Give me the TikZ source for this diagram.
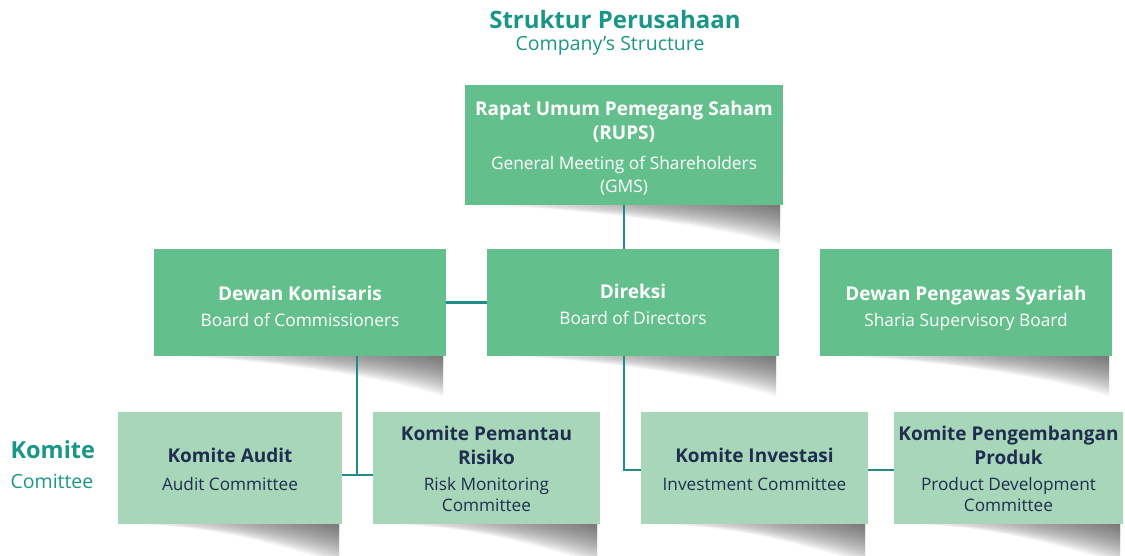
\documentclass[tikz,border=0pt]{standalone}
\usepackage{fontspec}
\setmainfont{Open Sans}
\usetikzlibrary{backgrounds,calc}
\definecolor{dkgreen}{RGB}{99,191,140}
\definecolor{ltgreen}{RGB}{167,215,184}
\definecolor{tealtxt}{RGB}{26,150,136}
\definecolor{tealline}{RGB}{30,140,138}
\definecolor{navy}{RGB}{31,45,80}
\pgfdeclarehorizontalshading{shadowh}{100bp}{color(0bp)=(white); color(25bp)=(white); color(55bp)=(black!55); color(75bp)=(black!80); color(100bp)=(black)}
\tikzset{
  topbox/.style={fill=dkgreen, inner sep=0pt},
  combox/.style={fill=ltgreen, inner sep=0pt},
  toptext/.style={text=white, align=center, inner sep=0pt, anchor=north,
    font=\fontsize{17.3}{24}\selectfont},
  comtext/.style={text=navy, align=center, inner sep=0pt, anchor=north,
    font=\fontsize{17.2}{22}\selectfont},
  link/.style={draw=tealline, line width=2.4pt},
  shadowlayer/.style={shading=shadowh, fill opacity=0.05, draw=none},
}
\newcommand{\bt}[1]{{\fontsize{19}{24}\selectfont\bfseries #1}}
\newcommand{\shadowunder}[1]{%
  \foreach \d in {2,4,...,40}{%
  \shade[shadowlayer] ($(#1.south west)+(20,0)$) -- ($(#1.south east)+(-3,0)$) -- ($(#1.south east)+(-3,\d)$)
    .. controls ($(#1.south east)+(-70,0.45*\d)$) and ($(#1.south west)+(90,2)$) .. ($(#1.south west)+(20,0)$) -- cycle;}}
\begin{document}
\begin{tikzpicture}[x=1pt,y=-1pt]
\useasboundingbox (0,0) rectangle (1125,556);
% titles
\node[text=tealtxt, font=\fontsize{24}{28}\selectfont\bfseries] (title) at (615,20) {Struktur Perusahaan};
\node[text=tealtxt, font=\fontsize{19.5}{22}\selectfont] (subtitle) at (610,46) {Company’s Structure};
\node[text=tealtxt, font=\fontsize{23.5}{26}\selectfont\bfseries, anchor=west] (kl) at (7,450) {Komite};
\node[text=tealtxt, font=\fontsize{19.5}{22}\selectfont, anchor=west] (kl2) at (7,481) {Comittee};
% boxes
\node[topbox, minimum width=318pt, minimum height=120pt] (rups) at (624,145) {};
\node[topbox, minimum width=292pt, minimum height=107pt] (kom) at (300,302.5) {};
\node[topbox, minimum width=292pt, minimum height=107pt] (dir) at (633,302.5) {};
\node[topbox, minimum width=292pt, minimum height=107pt] (dps) at (966,302.5) {};
\node[combox, minimum width=224pt, minimum height=112pt] (audit) at (230,468) {};
\node[combox, minimum width=227pt, minimum height=112pt] (risk) at (486.5,468) {};
\node[combox, minimum width=227pt, minimum height=112pt] (inv) at (754.5,468) {};
\node[combox, minimum width=229pt, minimum height=112pt] (prod) at (1008.5,468) {};
% box texts
\node[toptext] (rupsT) at ($(rups.north)+(0,16)$)
  {\bt{Rapat Umum Pemegang Saham}\\\bt{(RUPS)}\\[6pt]General Meeting of Shareholders\\[-1pt](GMS)};
\node[toptext] (komT) at ($(kom.north)+(0,37)$)
  {\bt{Dewan Komisaris}\\[2pt]Board of Commissioners};
\node[toptext] (dirT) at ($(dir.north)+(0,35)$)
  {\bt{Direksi}\\[2pt]Board of Directors};
\node[toptext] (dpsT) at ($(dps.north)+(0,37)$)
  {\bt{Dewan Pengawas Syariah}\\[2pt]Sharia Supervisory Board};
\node[comtext] (auditT) at ($(audit.north)+(0,36)$)
  {\bt{Komite Audit}\\[6pt]Audit Committee};
\node[comtext] (riskT) at ($(risk.north)+(0,14)$)
  {\bt{Komite Pemantau}\\[2pt]\bt{Risiko}\\[4pt]Risk Monitoring\\[-1pt]Committee};
\node[comtext] (invT) at ($(inv.north)+(0,36)$)
  {\bt{Komite Investasi}\\[6pt]Investment Committee};
\node[comtext] (prodT) at ($(prod.north)+(0,14)$)
  {\bt{Komite Pengembangan}\\[2pt]\bt{Produk}\\[4pt]Product Development\\[-1pt]Committee};
% shadows
\begin{scope}[on background layer]
\foreach \b in {rups,kom,dir,dps,audit,risk,inv,prod}{\shadowunder{\b}}
\end{scope}
% connectors
\coordinate (kj) at (357,475);
\coordinate (dj) at (624,470);
\draw[link] (rups.south) -- (rups.south |- dir.north);
\draw[link] (kom.east) -- (dir.west);
\draw[link] (kom.south -| kj) -- (kj);
\draw[link] (audit.east |- kj) -- (risk.west |- kj);
\draw[link] (dir.south -| dj) |- (inv.west |- dj);
\draw[link] (inv.east |- dj) -- (prod.west |- dj);
\end{tikzpicture}
\end{document}
